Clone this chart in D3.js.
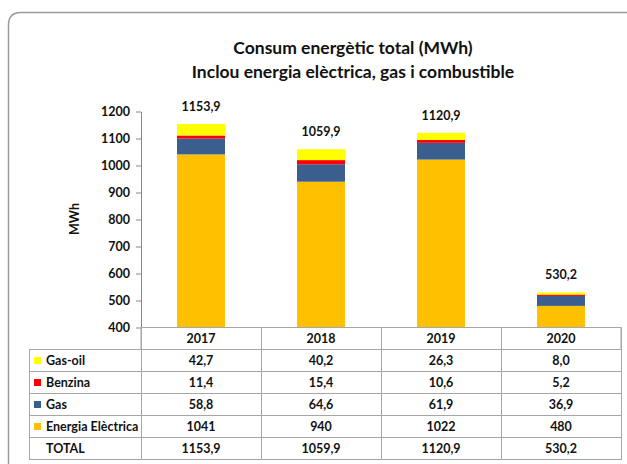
<!DOCTYPE html>
<html>
<head>
<meta charset="utf-8">
<script src="https://cdn.jsdelivr.net/npm/d3@7"></script>
<style>
  body { margin: 0; background: #fff; }
  svg { display: block; font-family: Lato, "Open Sans", sans-serif; }
</style>
</head>
<body>
<svg id="chart"></svg>
<script>
const years = ["2017", "2018", "2019", "2020"];
const electrica = [1041, 940, 1022, 480];
const gas = [58.8, 64.6, 61.9, 36.9];
const benzina = [11.4, 15.4, 10.6, 5.2];
const gasoil = [42.7, 40.2, 26.3, 8.0];
const totals = [1153.9, 1059.9, 1120.9, 530.2];
const yTicks = [400, 500, 600, 700, 800, 900, 1000, 1100, 1200];

const width = 627, height = 464;
const plotLeft = 141, plotRight = 621, plotTop = 111.5, plotBottom = 327.5;
const rowH = 22, tableLeft = 29.5;
const fs = 12.5;

const series = [
  {name: "Energia Elèctrica", values: electrica, color: "#FFC000", dec: 0},
  {name: "Gas", values: gas, color: "#3A5F8F", dec: 1},
  {name: "Benzina", values: benzina, color: "#FF0000", dec: 1},
  {name: "Gas-oil", values: gasoil, color: "#FFFF00", dec: 1}
];

const loc = d3.formatLocale({decimal: ",", thousands: "", grouping: [3], currency: ["", ""]});
const f1 = loc.format(".1f"), f0 = loc.format("d");

const svg = d3.select("#chart").attr("width", width).attr("height", height);

// marc arrodonit
svg.append("path")
  .attr("d", `M8.5,${height} V25 Q8.5,12.5 21,12.5 H${width}`)
  .attr("fill", "none").attr("stroke", "#9a9a9a").attr("stroke-width", 1.5);

// títol
const title = svg.append("text").attr("text-anchor", "middle")
  .attr("font-size", 17.5).attr("font-weight", 700).attr("fill", "#111");
title.append("tspan").attr("x", 353).attr("y", 54).text("Consum energètic total (MWh)");
title.append("tspan").attr("x", 353).attr("y", 78).text("Inclou energia elèctrica, gas i combustible");

const x = d3.scaleBand().domain(years).range([plotLeft, plotRight]).paddingInner(0.6).paddingOuter(0.3);
const y = d3.scaleLinear().domain([400, 1200]).range([plotBottom, plotTop]);

// barres apilades
const table = years.map((yr, i) => {
  const row = {year: yr};
  series.forEach(s => row[s.name] = s.values[i]);
  return row;
});
const stack = d3.stack().keys(series.map(s => s.name))(table);

svg.append("defs").append("clipPath").attr("id", "clip")
  .append("rect").attr("x", plotLeft).attr("y", 0).attr("width", plotRight - plotLeft).attr("height", plotBottom);

const g = svg.append("g").attr("clip-path", "url(#clip)");
g.selectAll("g.layer")
  .data(stack)
  .enter()
  .append("g")
  .attr("class", "layer")
  .attr("fill", (d, i) => series[i].color)
  .selectAll("rect")
  .data(d => d)
  .enter()
  .append("rect")
  .attr("x", d => x(d.data.year))
  .attr("width", x.bandwidth())
  .attr("y", d => y(d[1]))
  .attr("height", d => y(d[0]) - y(d[1]));

// etiquetes de total
svg.selectAll("text.total")
  .data(years)
  .enter()
  .append("text")
  .attr("class", "total")
  .attr("x", d => x(d) + x.bandwidth() / 2)
  .attr("y", (d, i) => y(totals[i]) - 13)
  .attr("text-anchor", "middle")
  .attr("font-size", fs).attr("font-weight", 700).attr("fill", "#111")
  .text((d, i) => f1(totals[i]));

// eix Y
const yAxis = svg.append("g")
  .attr("transform", `translate(${plotLeft},0)`)
  .call(d3.axisLeft(y).tickValues(yTicks).tickFormat(d3.format("d")).tickSize(5).tickSizeOuter(0).tickPadding(6));
yAxis.select(".domain").attr("stroke", "#888");
yAxis.selectAll(".tick line").attr("stroke", "#888");
yAxis.selectAll(".tick text").attr("font-size", fs).attr("font-weight", 700)
  .attr("font-family", "Lato, sans-serif").attr("fill", "#111");

svg.append("text")
  .attr("transform", `translate(79,219) rotate(-90)`)
  .attr("text-anchor", "middle")
  .attr("font-size", fs).attr("font-weight", 700).attr("fill", "#111")
  .text("MWh");

// taula de dades
const cols = d3.scaleBand().domain(years).range([plotLeft, plotRight]);
const rows = [...series].reverse().map(s => ({label: s.name, color: s.color,
  cells: s.values.map(v => s.dec ? f1(v) : f0(v))}));
rows.push({label: "TOTAL", color: null, cells: totals.map(v => f1(v))});

const tg = svg.append("g").attr("stroke", "#a6a6a6").attr("stroke-width", 1);
// capçalera
tg.append("rect").attr("x", plotLeft).attr("y", plotBottom)
  .attr("width", plotRight - plotLeft).attr("height", rowH).attr("fill", "none");
years.forEach(yr => {
  tg.append("line").attr("x1", cols(yr) + 0.5).attr("x2", cols(yr) + 0.5)
    .attr("y1", plotBottom).attr("y2", plotBottom + rowH * (rows.length + 1));
  svg.append("text").attr("x", cols(yr) + cols.bandwidth() / 2).attr("y", plotBottom + rowH / 2 + 4.5)
    .attr("text-anchor", "middle").attr("font-size", fs).attr("font-weight", 700).attr("fill", "#111")
    .text(yr);
});
tg.append("line").attr("x1", plotRight + 0.5).attr("x2", plotRight + 0.5)
  .attr("y1", plotBottom).attr("y2", plotBottom + rowH * (rows.length + 1));

rows.forEach((r, i) => {
  const top = plotBottom + rowH * (i + 1);
  tg.append("rect").attr("x", tableLeft).attr("y", top)
    .attr("width", plotRight + 0.5 - tableLeft).attr("height", rowH).attr("fill", "none");
  if (r.color) {
    svg.append("rect").attr("x", 34).attr("y", top + 7.5).attr("width", 7).attr("height", 7).attr("fill", r.color);
  }
  svg.append("text").attr("x", 46).attr("y", top + rowH / 2 + 4.5)
    .attr("font-size", fs).attr("font-weight", 700).attr("fill", "#111").text(r.label);
  r.cells.forEach((c, j) => {
    svg.append("text").attr("x", cols(years[j]) + cols.bandwidth() / 2).attr("y", top + rowH / 2 + 4.5)
      .attr("text-anchor", "middle").attr("font-size", fs).attr("font-weight", 700).attr("fill", "#111")
      .text(c);
  });
});
</script>
</body>
</html>
